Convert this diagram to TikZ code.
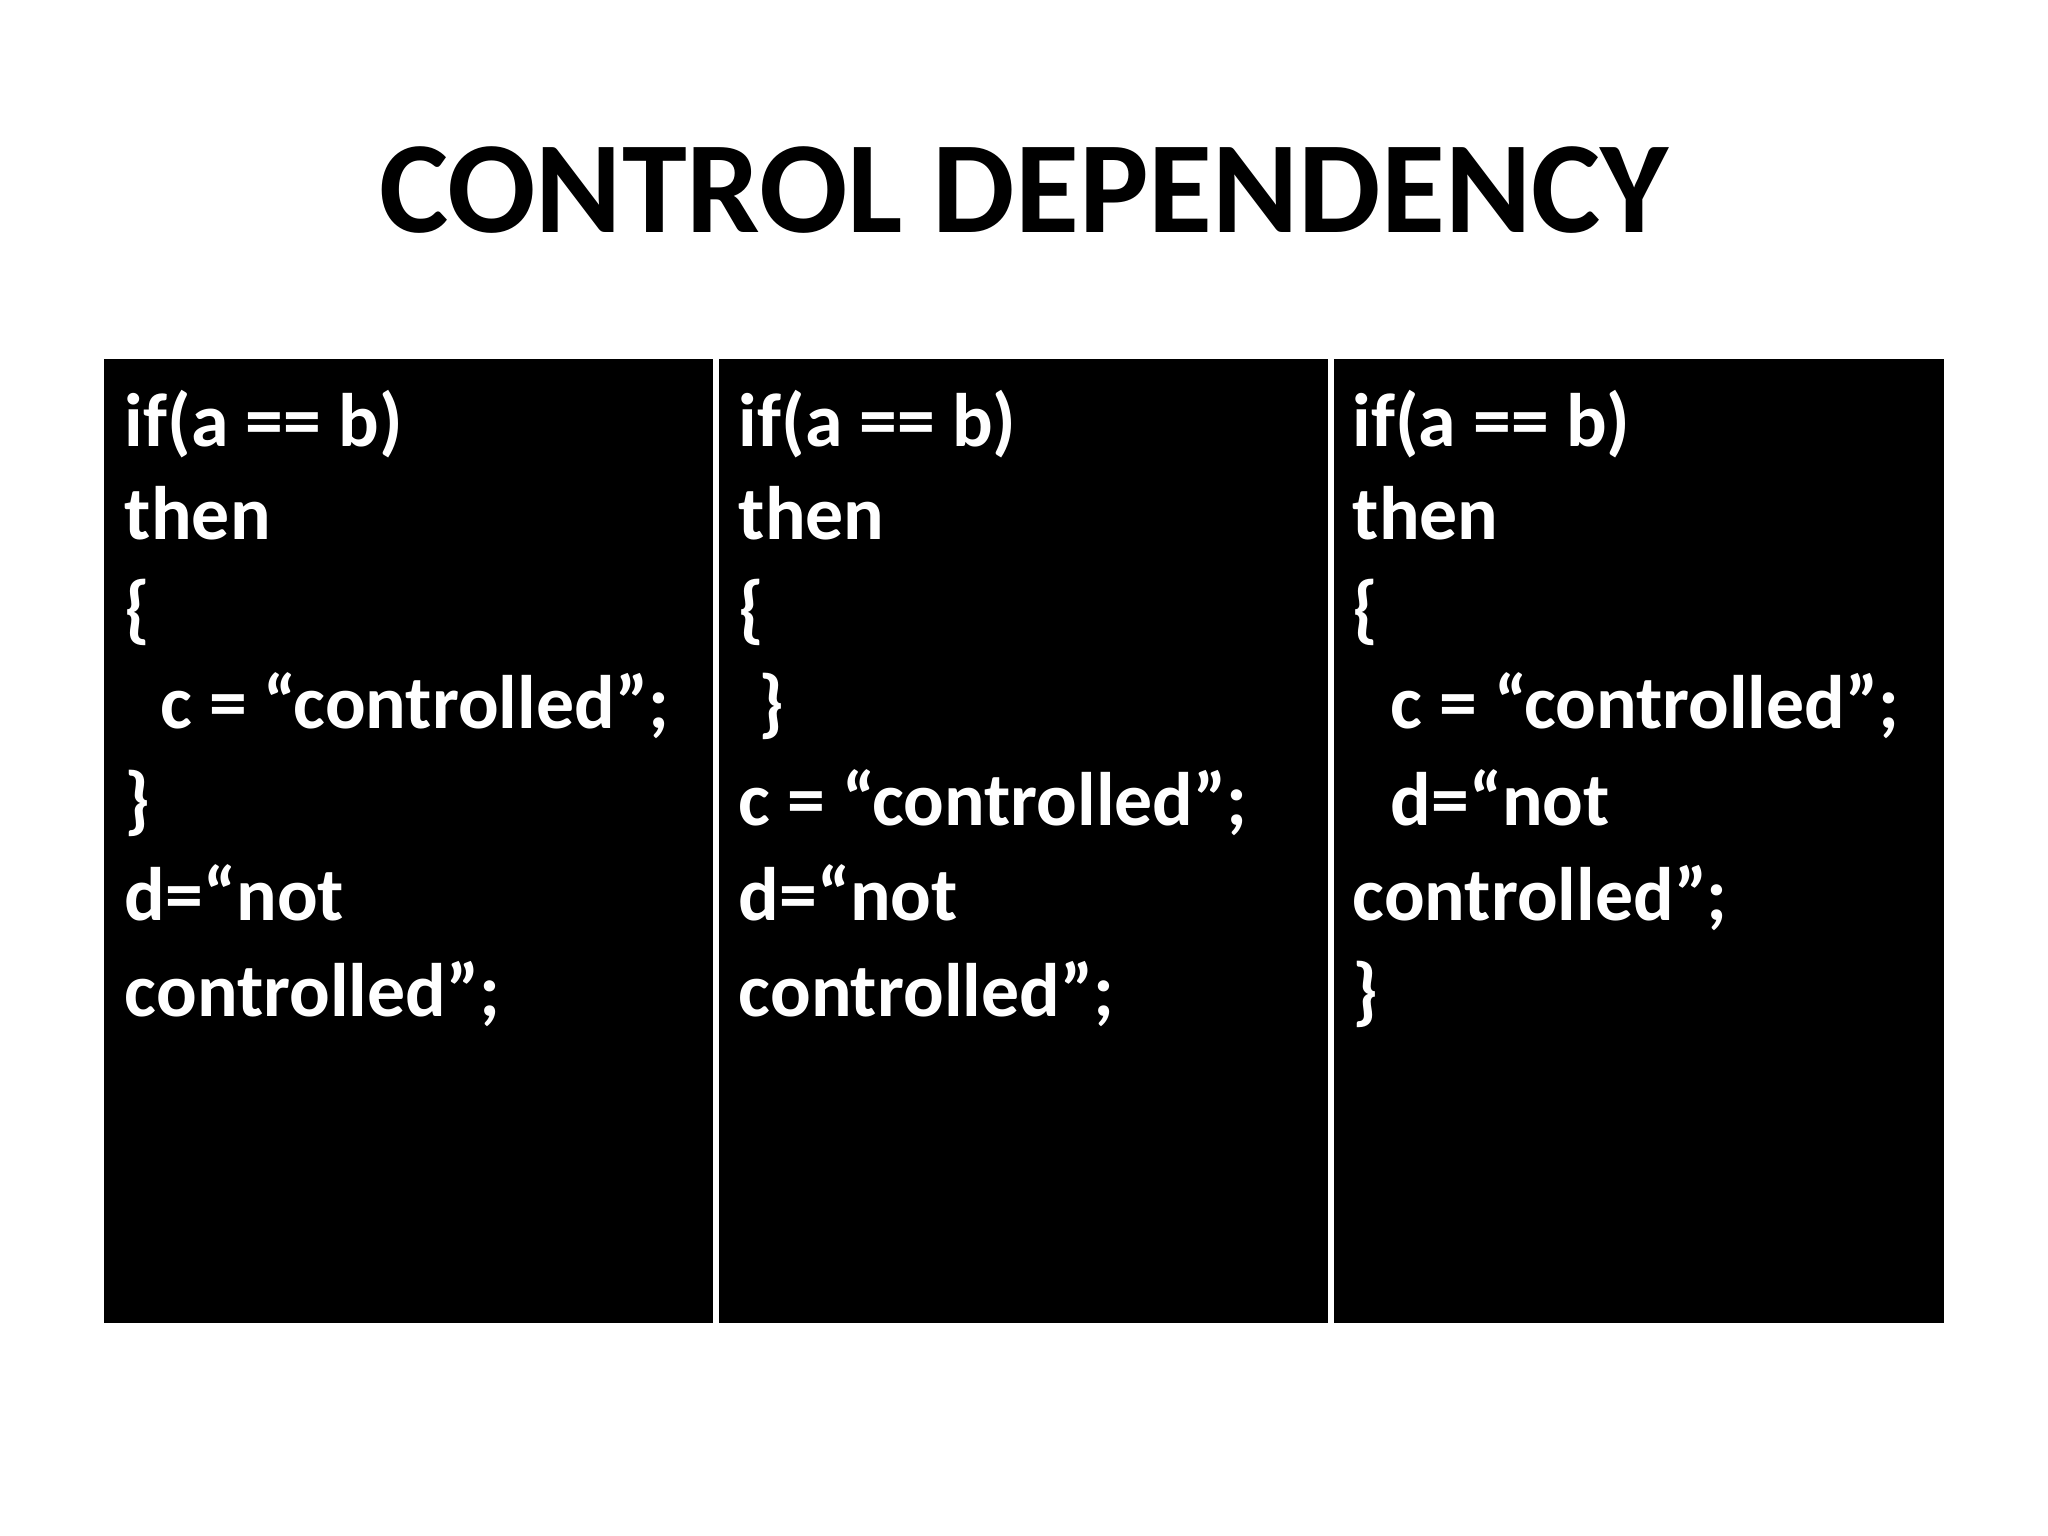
\documentclass[tikz,border=0pt]{standalone}
\usepackage{fontspec}
\setmainfont{Carlito}
\begin{document}
\begin{tikzpicture}[x=0.01cm,y=-0.01cm,
  code/.style={anchor=base west,inner sep=0pt,text=white,font=\fontsize{16.5}{20}\selectfont\bfseries},
  panel/.style={fill=black,draw=white,line width=1.2pt}]
\useasboundingbox (0,0) rectangle (1568,1176);
\fill[white] (0,0) rectangle (1568,1176);
\node[font=\fontsize{28.5}{32}\selectfont\bfseries,anchor=base] (title) at (784,178) {CONTROL DEPENDENCY};
\node[panel,minimum width=469\pgflinewidth,inner sep=0pt,anchor=north west] (p1) at (0,0) {};
\fill[black] (80,275) rectangle (1488,1013);
\draw[white,line width=1.3pt] (548.5,275) -- (548.5,1013);
\draw[white,line width=1.3pt] (1019,275) -- (1019,1013);
% column 1
\node[code] (a1) at (95,342) {if(a == b)};
\node[code] (a2) at (95,413) {then};
\node[code] (a3) at (95,486) {\{};
\node[code] (a4) at (122,558) {c = “controlled”;};
\node[code] (a5) at (95,632) {\}};
\node[code] (a6) at (95,705) {d=“not};
\node[code] (a7) at (95,778) {controlled”;};
% column 2
\node[code] (b1) at (565,342) {if(a == b)};
\node[code] (b2) at (565,413) {then};
\node[code] (b3) at (565,486) {\{};
\node[code] (b4) at (580,558) {\}};
\node[code] (b5) at (565,632) {c = “controlled”;};
\node[code] (b6) at (565,705) {d=“not};
\node[code] (b7) at (565,778) {controlled”;};
% column 3
\node[code] (c1) at (1035,342) {if(a == b)};
\node[code] (c2) at (1035,413) {then};
\node[code] (c3) at (1035,486) {\{};
\node[code] (c4) at (1064,558) {c = “controlled”;};
\node[code] (c5) at (1064,632) {d=“not};
\node[code] (c6) at (1035,705) {controlled”;};
\node[code] (c7) at (1035,778) {\}};
\end{tikzpicture}
\end{document}
